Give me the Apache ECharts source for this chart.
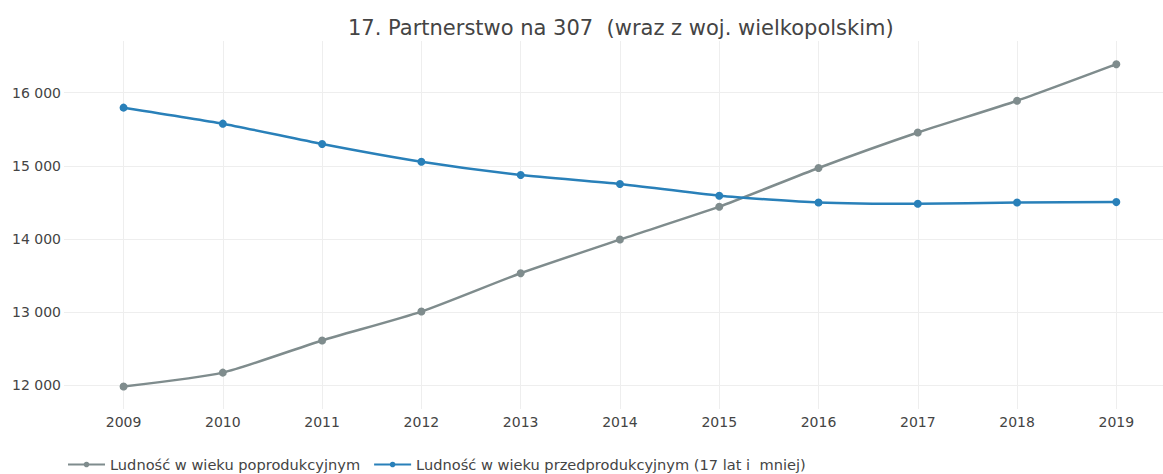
<!DOCTYPE html>
<html>
<head>
    <meta charset="utf-8">
    <title>ECharts</title>
    <script src="https://cdn.jsdelivr.net/npm/echarts@6/dist/echarts.min.js"></script>
</head>
<body style="margin:0">
<div id="main" style="width: 1163px;height:474px;"></div>
<script type="text/javascript">
    // dane
    var years = [2009, 2010, 2011, 2012, 2013, 2014, 2015, 2016, 2017, 2018, 2019];
    var poprodukcyjny = [11980, 12170, 12610, 13005, 13530, 13990, 14440, 14970, 15455, 15890, 16390];
    var przedprodukcyjny = [15795, 15576, 15298, 15055, 14873, 14750, 14590, 14498, 14480, 14498, 14503];
    var yTicks = [12000, 13000, 14000, 15000, 16000];
    var seriesNames = ['Ludność w wieku poprodukcyjnym', 'Ludność w wieku przedprodukcyjnym (17 lat i  mniej)'];

    function pairs(vals) {
        return years.map(function (y, i) { return [y, vals[i]]; });
    }

    var myChart = echarts.init(document.getElementById('main'), null, {renderer: 'svg'});
    var font = '"DejaVu Sans", sans-serif';
    var option = {
        color: ['#7f8c8d', '#2980b9'],
        textStyle: {fontFamily: font},
        title: {
            text: '17. Partnerstwo na 307  (wraz z woj. wielkopolskim)',
            left: 343,
            top: 12,
            textStyle: {fontFamily: font, fontSize: 21, fontWeight: 'normal', color: '#444'}
        },
        legend: {
            data: seriesNames,
            left: 62,
            top: 452,
            itemWidth: 37,
            itemHeight: 7,
            itemGap: 13,
            textStyle: {fontFamily: font, fontSize: 14.6, color: '#444'}
        },
        grid: {left: 64, right: 0, top: 41, bottom: 65},
        xAxis: {
            type: 'value',
            min: 2008.4,
            max: 2019.47,
            axisLine: {show: false},
            axisTick: {show: false, customValues: years},
            axisLabel: {
                customValues: years, color: '#444', fontSize: 14, fontFamily: font, margin: 6,
                formatter: function (v) { return String(v); }
            },
            splitLine: {show: true, lineStyle: {color: '#eee', width: 1}}
        },
        yAxis: {
            type: 'value',
            min: 11672,
            max: 16707,
            axisLine: {show: false},
            axisTick: {show: false, customValues: yTicks},
            axisLabel: {
                customValues: yTicks, color: '#444', fontSize: 14, fontFamily: font, margin: 3,
                formatter: function (v) { return String(v).replace(/\B(?=(\d{3})+(?!\d))/g, ' '); }
            },
            splitLine: {show: true, lineStyle: {color: '#eee', width: 1}}
        },
        series: [
            {
                name: seriesNames[0], type: 'line', data: pairs(poprodukcyjny),
                smooth: 0.2, symbol: 'circle', symbolSize: 8,
                lineStyle: {width: 2.5}
            },
            {
                name: seriesNames[1], type: 'line', data: pairs(przedprodukcyjny),
                smooth: 0.2, symbol: 'circle', symbolSize: 8,
                lineStyle: {width: 2.5}
            }
        ]
    };
    myChart.setOption(option);
</script>
</body>
</html>
